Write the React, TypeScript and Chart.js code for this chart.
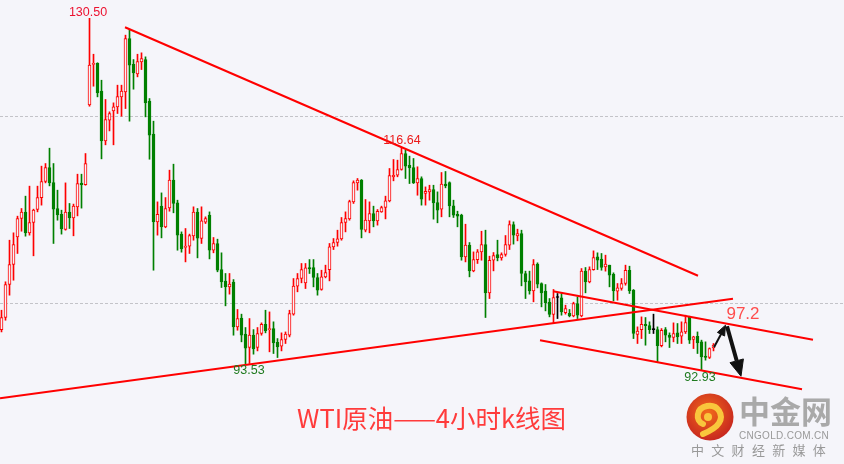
import React, { useEffect, useRef } from "react";
import { Chart, registerables } from "chart.js";

Chart.register(...registerables);

// ---- data: WTI 4h candles (index = candle number) ----
const opens = [97.21,98.5,102.03,104.17,107.13,109.09,109.77,107.56,108.66,110.05,111.33,113.05,114.54,112.94,110.16,109.55,107.91,109.77,109.16,110.34,112.87,112.72,121.24,125.56,125.7,122.71,117.4,119.61,120.6,121.03,122.1,122.64,128.34,125.59,124.56,125.84,126.09,121.64,118.11,108.73,110.41,108.2,110.23,113.19,110.77,107.42,105.99,106.13,107.24,109.77,106.95,108.7,109.45,105.7,106.42,103.63,102.39,101.78,102.28,97.5,98.43,96.72,95.29,96.61,95.29,96.79,97.78,97.21,97.32,95.86,95.43,96.15,96.61,98.86,101.85,102.67,102.21,103.85,103.85,102.78,101.5,102.85,103.63,106.06,106.52,106.92,108.66,109.05,110.87,112.9,113.19,107.84,108.84,109.63,108.84,109.8,110.27,110.98,113.55,113.72,114.33,116.04,114.79,114.54,112.9,113.37,111.76,111.94,112.19,110.8,110.09,112.76,112.94,110.44,109.55,109.45,104.99,106.24,103.49,104.7,105.52,106.31,101.14,104.63,105.24,104.88,105.24,106.24,108.45,107.24,107.49,103.21,102.42,101.35,104.21,102.14,101.32,100.14,98.82,100.64,100.6,99.03,98.96,98.68,99.99,98.68,103.46,102.32,103.63,104.99,104.74,103.92,104.1,103.13,101.32,101.6,102.14,103.56,101.42,96.68,97.21,97.78,97.64,97.21,97.21,95.5,97.21,96.61,96.36,96.86,96.5,96.96,98.57,96.15,96.5,95.9,94.37,94.22,95.25];
const highs = [99.28,102.32,106.77,107.56,109.34,110.16,111.48,112.55,110.09,112.55,114.69,114.97,116.61,114.97,112.12,109.98,112.9,110.7,110.63,113.83,113.83,116.04,130.5,126.66,125.75,123.88,121.82,120.5,121.46,123.35,123.35,128.7,129.3,126.09,126.66,126.81,126.38,121.92,119.5,110.87,111.83,111.33,114.26,114.9,111.05,107.66,108.02,107.42,110.34,110.16,110.34,109.27,109.8,107.06,106.88,105.42,103.21,103.21,102.56,99.36,98.86,97.43,98.39,97.21,97.43,97.93,99.28,99.1,98.04,96.25,96.86,96.96,99.28,102.67,103.21,104.28,104.28,104.7,104.7,103.21,103.56,104.1,106.42,106.95,107.84,109.2,109.8,111.05,113.12,113.37,113.26,111.12,110.87,110.41,110.05,110.41,111.48,114.44,115.4,115.33,116.64,116.4,115.76,115.51,114.62,113.55,112.47,112.65,112.65,111.94,114.01,114.12,113.01,111.05,109.87,109.55,108.48,106.52,105.52,105.77,107.73,107.84,105.06,105.45,106.77,105.42,107.27,108.84,108.73,107.95,107.84,103.46,103.46,104.7,104.35,102.21,102.03,100.53,101.5,101.07,101.07,99.82,99.36,100.14,100.71,103.74,103.85,103.92,105.63,105.42,105.35,105.17,104.1,103.28,102.14,102.67,104.1,103.99,101.5,97.5,98.57,98.5,98.04,98.86,97.5,97.32,97.43,96.86,97.93,97.86,98.04,98.75,98.64,96.5,96.96,96.08,95.9,95.25,95.72];
const lows = [96.96,98.21,100.89,102.49,105.35,107.73,107.2,107.31,105.1,109.8,110.52,112.9,112.58,106.42,108.91,107.42,107.84,108.02,107.24,109.37,110.2,112.65,121.1,123.24,122.1,115.47,116.97,118.46,116.97,120.32,120.03,120.85,119.5,122.92,124.24,125.02,119.96,115.43,103.56,107.31,107.02,108.1,109.87,109.7,105.7,105.49,104.45,105.35,106.77,104.88,106.42,108.55,104.77,105.42,103.39,101.71,99.75,101,96.61,97.14,95.9,93.53,93.58,94.58,94.93,96.61,96.86,94.83,94.65,94.22,94.93,95.72,96.43,98.75,101.25,102.21,101.6,103.21,101.78,100.89,101.42,102.74,102.42,105.77,106.13,106.77,107.66,108.91,110.7,112.12,107.02,107.66,107.56,108.2,108.38,109.75,109.05,110.87,113.12,113.55,114.26,113.37,112.83,112.83,111.58,110.52,110.52,111.05,109.02,108.63,109.27,112.37,109.27,109.2,108.2,104.63,104.45,102.85,103.39,104.28,104.63,98.5,100.53,103.49,104.56,104.63,105.06,105.77,106.35,106.7,101.89,100.53,101,100.18,101.67,99.64,99.21,98.57,97.86,98.39,98.75,98.86,98.57,98.57,98.39,98.57,101.14,102.21,103.56,103.63,103.56,103.46,101.78,100.28,100.35,101.42,101.96,101.07,96.25,95.72,96.25,95.54,96.79,96.79,93.76,95.36,95.9,95.29,95.9,95.72,95.72,96.79,95.72,95.18,94.65,92.93,93.94,94.11,94.93];
const closes = [98.5,102.03,104.17,106.31,109.09,109.77,107.56,108.66,109.98,111.33,113.05,114.54,112.9,110.09,109.48,107.98,109.77,109.16,110.41,112.83,112.69,114.97,125.49,125.7,122.53,117.4,119.68,120.32,121.03,122.14,122.71,128.34,125.49,124.67,125.88,126.2,121.46,118,108.73,109.55,108.2,110.16,113.19,110.7,107.31,105.85,106.13,107.27,109.77,106.99,108.84,109.09,105.7,106.42,103.56,102.32,101.78,102.07,97.5,98.39,96.61,95.22,96.61,95.15,96.79,97.78,97.07,97.32,95.79,95.36,96.15,96.72,98.93,101.85,102.67,103.63,103.81,103.7,102.78,101.42,102.85,103.31,106.06,106.52,106.92,108.66,109.09,110.91,112.94,113.19,107.91,108.91,109.63,108.84,109.87,110.27,110.98,113.69,113.72,114.33,116.04,114.69,114.51,112.9,113.37,111.16,112.01,112.19,110.77,109.98,112.76,112.58,110.44,109.45,109.34,104.99,106.24,103.49,104.7,105.52,106.31,101.14,104.63,105.13,104.88,105.24,106.31,108.45,107.31,107.49,103.21,102.32,101.35,104.17,102.07,101.14,100.1,98.82,100.64,100.64,99.1,99.46,98.68,99.99,98.75,103.46,102.32,103.63,104.92,104.63,103.85,104.21,103.03,101.35,101.67,102.14,103.56,101.35,96.79,97.04,97.78,97.64,97.21,97.21,95.5,97.14,96.61,96.36,96.79,96.43,96.96,97.96,96.08,96.43,95.79,94.29,94.22,95.18,95.54];

// reference levels (dashed)
const refLevels = [100, 120];

// trend lines: [candle index, price] end points
const resistanceLine = [[30.875, 129.55], [174.125, 102.97]];
const supportLine = [[-0.375, 89.87], [182.875, 100.51]];
const channelTop = [[137.875, 101.32], [202.875, 96.13]];
const channelBottom = [[134.625, 96.07], [200.125, 90.83]];

// forecast arrows (index, price)
const upArrowShaft = [[178.125, 95.33], [179.875, 96.72]];
const upArrowHead = [[181.0, 97.68], [180.775, 96.52], [178.975, 96.91], [181.0, 97.68]];
const downArrowShaft = [[181.375, 97.57], [183.8, 93.87]];
const downArrowHead = [[184.875, 92.22], [185.475, 94.07], [182.125, 93.67], [184.875, 92.22]];

// price annotations
const labelTexts = ["130.50", "116.64", "93.53", "92.93", "97.2"];
const labelIdx = [21.625, 100.125, 61.875, 174.625, 185.375];
const labelPrice = [131.16, 117.47, 92.87, 92.12, 98.86];

const X_MIN = -0.375;
const X_MAX = 210.625;
const Y_MIN = 82.834;
const Y_MAX = 132.46;

const RED = "#ff0000";
const GREEN = "#008000";
const BLACK = "#000000";
const BG = "#F5F5FA";

const labelStyles = [
  { color: "#ec1230", font: "12.5px 'Liberation Sans', Arial, sans-serif" },
  { color: "#ec1a1a", font: "12.5px 'Liberation Sans', Arial, sans-serif" },
  { color: "#1f7a1f", font: "12.5px 'Liberation Sans', Arial, sans-serif" },
  { color: "#1f7a1f", font: "12.5px 'Liberation Sans', Arial, sans-serif" },
  { color: "#ff4d4d", font: "17px 'Liberation Sans', Arial, sans-serif" },
];

const pts = (arr: number[][]) => arr.map(([x, y]) => ({ x, y }));

const labelPlugin = {
  id: "priceLabels",
  afterDatasetsDraw(chart: any) {
    const { ctx, scales } = chart;
    ctx.save();
    ctx.textAlign = "center";
    ctx.textBaseline = "middle";
    labelTexts.forEach((t, k) => {
      ctx.font = labelStyles[k].font;
      ctx.fillStyle = labelStyles[k].color;
      ctx.fillText(t, scales.x.getPixelForValue(labelIdx[k]), scales.y.getPixelForValue(labelPrice[k]));
    });
    ctx.restore();
  },
};

export default function App() {
  const ref = useRef<HTMLCanvasElement>(null);

  useEffect(() => {
    if (!ref.current) return;
    const dir = opens.map((o, i) => (closes[i] > o ? 1 : closes[i] < o ? -1 : 0));
    const col = (d: number) => (d > 0 ? RED : d < 0 ? GREEN : BLACK);

    const lineDs = (data: number[][], color: string, width: number, order = 0, extra: any = {}) => ({
      type: "line" as const,
      data: pts(data),
      borderColor: color,
      borderWidth: width,
      pointRadius: 0,
      tension: 0,
      fill: false,
      order,
      ...extra,
    });

    const chart = new Chart(ref.current, {
      type: "bar",
      data: {
        datasets: [
          ...refLevels.map((lv) =>
            lineDs([[X_MIN, lv], [X_MAX, lv]], "#c3c3c8", 1, 5, { borderDash: [3, 2] })
          ),
          {
            type: "bar",
            data: opens.map((o, i) => ({ x: i, y: [lows[i], highs[i]] })),
            backgroundColor: dir.map(col),
            borderWidth: 0,
            barThickness: 1,
            grouped: false,
            order: 3,
          } as any,
          {
            type: "bar",
            data: opens.map((o, i) => ({ x: i, y: [o, closes[i]] })),
            backgroundColor: dir.map((d) => (d > 0 ? BG : col(d))),
            borderColor: dir.map(col),
            borderWidth: 1,
            borderSkipped: false,
            barThickness: 3,
            minBarLength: 1,
            grouped: false,
            order: 2,
          } as any,
          lineDs(resistanceLine, RED, 2),
          lineDs(supportLine, RED, 2),
          lineDs(channelTop, RED, 2),
          lineDs(channelBottom, RED, 2),
          lineDs(upArrowShaft, "#111", 2),
          lineDs(upArrowHead, "#111", 1, 0, { fill: "shape", backgroundColor: "#111" }),
          lineDs(downArrowShaft, "#111", 4),
          lineDs(downArrowHead, "#111", 1, 0, { fill: "shape", backgroundColor: "#111" }),
        ] as any,
      },
      options: {
        responsive: false,
        maintainAspectRatio: false,
        animation: false,
        layout: { padding: 0 },
        plugins: { legend: { display: false }, tooltip: { enabled: false } },
        scales: {
          x: { type: "linear", display: false, min: X_MIN, max: X_MAX, offset: false },
          y: { type: "linear", display: false, min: Y_MIN, max: Y_MAX },
        },
      } as any,
      plugins: [labelPlugin],
    });
    return () => chart.destroy();
  }, []);

  const gray = "#a9a9a9";
  return (
    <div style={{ position: "fixed", left: 0, top: 0, width: 844, height: 464, background: BG, overflow: "hidden" }}>
      <canvas ref={ref} width={844} height={464} style={{ display: "block", position: "absolute", left: 0, top: 0 }} />
      <div
        style={{
          position: "absolute",
          left: 297,
          top: 403,
          fontFamily: "'Noto Sans CJK SC', sans-serif",
          fontSize: 25.5,
          lineHeight: "27px",
          color: "#ff3b3b",
          whiteSpace: "nowrap",
        }}
      >
        WTI原油——4小时k线图
      </div>
      <svg style={{ position: "absolute", left: 686, top: 393 }} width={48} height={48} viewBox="0 0 48 48">
        <defs>
          <radialGradient id="lg" cx="45%" cy="40%" r="60%">
            <stop offset="0%" stopColor="#f26a1b" />
            <stop offset="100%" stopColor="#c8281f" />
          </radialGradient>
        </defs>
        <circle cx={24} cy={24} r={23.5} fill="url(#lg)" />
        <path
          d="M17 31 C9 28 10 15 21 13 C32 11 38 22 33 30 C30 35 24 38 17 41"
          stroke="#f9c63c"
          strokeWidth={6}
          fill="none"
          strokeLinecap="round"
        />
        <circle cx={22} cy={24} r={4} fill="#f9c63c" />
      </svg>
      <div
        style={{
          position: "absolute",
          left: 739,
          top: 393,
          fontFamily: "'Noto Sans CJK SC', sans-serif",
          fontWeight: 700,
          fontSize: 31,
          lineHeight: "34px",
          color: gray,
          whiteSpace: "nowrap",
        }}
      >
        中金网
      </div>
      <div
        style={{
          position: "absolute",
          left: 739,
          top: 430,
          fontFamily: "'Liberation Sans', Arial, sans-serif",
          fontSize: 10,
          lineHeight: "11px",
          letterSpacing: 0.3,
          color: "#999",
          whiteSpace: "nowrap",
        }}
      >
        CNGOLD.COM.CN
      </div>
      <div
        style={{
          position: "absolute",
          left: 691,
          top: 442,
          fontFamily: "'Noto Sans CJK SC', sans-serif",
          fontSize: 13,
          lineHeight: "16px",
          letterSpacing: 2.2,
          color: "#999",
          whiteSpace: "nowrap",
        }}
      >
        中 文 财 经 新 媒 体
      </div>
    </div>
  );
}
